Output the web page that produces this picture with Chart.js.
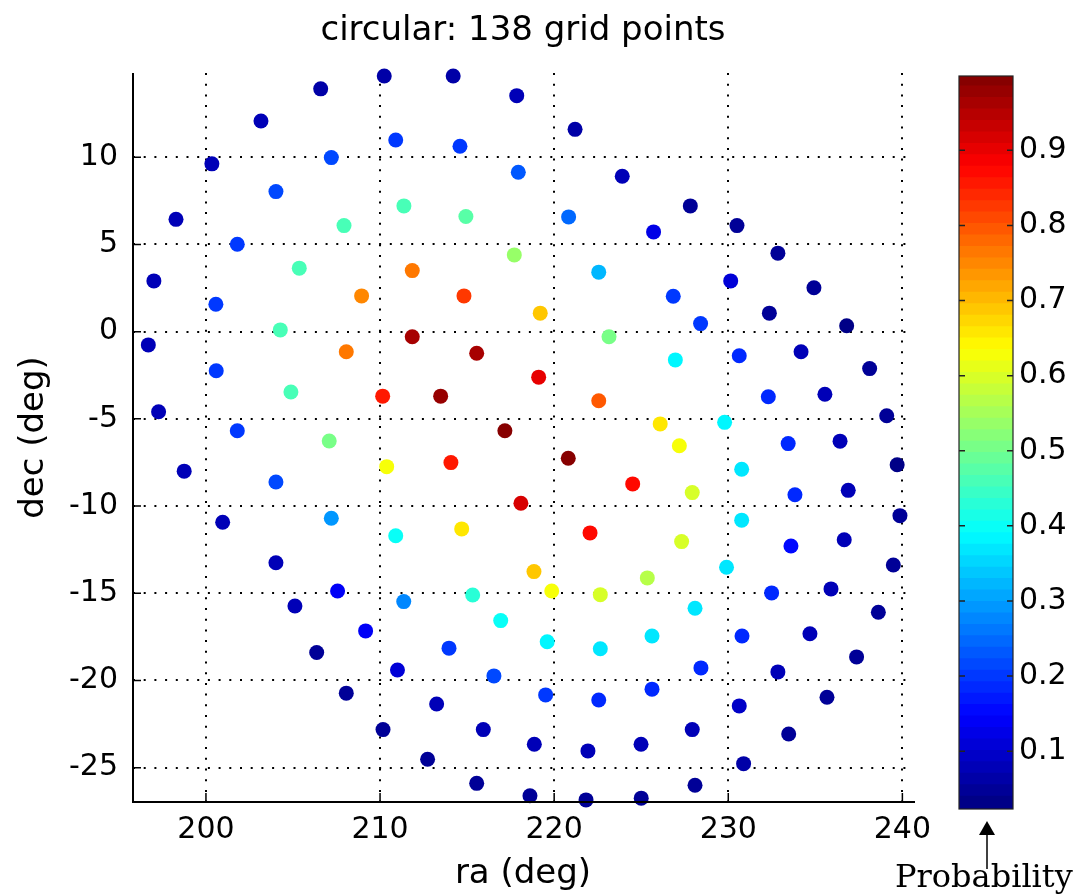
<!DOCTYPE html>
<html>
<head>
<meta charset="utf-8">
<script src="https://cdn.jsdelivr.net/npm/chart.js@4.4.1/dist/chart.umd.min.js"></script>
<style>
  html, body { margin: 0; padding: 0; background: #fff; }
  #wrap { position: relative; width: 1077px; height: 895px; }
  #wrap canvas { position: absolute; left: 0; top: 0; }
</style>
</head>
<body>
<div id="wrap">
  <canvas id="scatter" width="1077" height="895"></canvas>
  <canvas id="cbar" width="1077" height="895"></canvas>
</div>
<script>
// grid point positions (deg) and probability
const ra = [
  210.24, 214.2, 206.59, 217.85, 203.16, 210.9, 214.59, 207.2, 200.34, 217.94,
  204.02, 211.37, 214.93, 198.28, 207.93, 201.8, 217.71, 205.36, 211.85, 197.01,
  208.94, 214.82, 200.57, 204.27, 211.85, 196.69, 208.06, 215.55, 200.59, 204.88,
  210.15, 213.48, 197.28, 217.17, 201.8, 207.08, 198.75, 210.38, 214.07, 204.02,
  218.09, 200.96, 207.2, 210.9, 214.69, 204.02, 207.56, 205.11, 211.36, 215.32,
  216.93, 209.17, 213.96, 206.36, 211.0, 216.54, 208.06, 213.25, 210.17, 215.93,
  212.73, 215.55, 221.2, 223.91, 227.82, 220.83, 225.71, 230.5, 222.56, 232.85,
  230.14, 234.92, 226.84, 219.2, 232.36, 236.8, 228.41, 223.15, 230.63, 234.18,
  226.96, 219.11, 238.12, 222.56, 232.3, 235.55, 239.1, 226.09, 229.79, 220.81,
  227.19, 233.44, 236.42, 239.7, 230.77, 224.51, 227.93, 233.83, 236.89, 239.86,
  230.77, 222.06, 227.32, 233.6, 236.66, 218.84, 229.9, 239.48, 225.35, 219.86,
  222.65, 232.49, 235.9, 228.09, 238.62, 219.6, 222.65, 225.62, 230.79, 234.69,
  228.43, 232.85, 237.37, 219.51, 222.56, 225.62, 230.63, 235.67, 227.93, 233.47,
  218.86, 221.94, 224.99, 230.88, 228.09, 218.61, 221.83, 225.0
];
const dec = [
  14.66, 14.66, 13.92, 13.53, 12.08, 10.99, 10.63, 9.98, 9.62, 9.14,
  8.03, 7.21, 6.6, 6.44, 6.08, 5.01, 4.4, 3.64, 3.5, 2.91,
  2.05, 2.05, 1.57, 0.1, -0.29, -0.76, -1.15, -1.24, -2.24, -3.46,
  -3.7, -3.7, -4.59, -5.68, -5.68, -6.27, -8.0, -7.74, -7.51, -8.62,
  -9.84, -10.93, -10.7, -11.7, -11.31, -13.25, -14.87, -15.73, -15.48, -15.1,
  -16.57, -17.16, -18.15, -18.4, -19.4, -19.74, -20.73, -21.35, -22.82, -22.82,
  -24.52, -25.9, 11.6, 8.91, 7.21, 6.58, 5.72, 6.08, 3.41, 4.5,
  2.91, 2.52, 2.03, 1.06, 1.06, 0.34, 0.46, -0.29, -1.38, -1.15,
  -1.62, -2.61, -2.12, -3.96, -3.73, -3.59, -4.82, -5.29, -5.2, -7.26,
  -6.54, -6.42, -6.28, -7.63, -7.89, -8.73, -9.23, -9.35, -9.1, -10.55,
  -10.81, -11.54, -12.04, -12.29, -11.93, -13.76, -13.51, -13.38, -14.12, -14.87,
  -15.08, -14.98, -14.75, -15.86, -16.09, -17.78, -18.18, -17.45, -17.45, -17.32,
  -19.28, -19.51, -18.65, -20.83, -21.12, -20.5, -21.46, -20.96, -22.82, -23.07,
  -23.66, -24.04, -23.66, -24.77, -26.01, -26.61, -26.85, -26.75
];
const prob = [
  0.06, 0.06, 0.06, 0.07, 0.07, 0.2, 0.2, 0.22, 0.07, 0.23,
  0.21, 0.45, 0.48, 0.07, 0.46, 0.2, 0.53, 0.45, 0.77, 0.07,
  0.75, 0.83, 0.2, 0.45, 0.96, 0.07, 0.77, 0.96, 0.2, 0.45,
  0.85, 0.97, 0.07, 0.99, 0.2, 0.5, 0.07, 0.63, 0.86, 0.21,
  0.92, 0.07, 0.29, 0.4, 0.65, 0.07, 0.14, 0.07, 0.27, 0.42,
  0.39, 0.13, 0.2, 0.04, 0.1, 0.22, 0.04, 0.07, 0.04, 0.08,
  0.04, 0.04, 0.06, 0.07, 0.05, 0.24, 0.12, 0.04, 0.32, 0.04,
  0.1, 0.04, 0.2, 0.69, 0.05, 0.03, 0.2, 0.51, 0.18, 0.07,
  0.38, 0.9, 0.04, 0.8, 0.18, 0.07, 0.04, 0.65, 0.38, 0.99,
  0.62, 0.18, 0.07, 0.03, 0.37, 0.87, 0.6, 0.18, 0.08, 0.04,
  0.37, 0.87, 0.59, 0.16, 0.07, 0.69, 0.37, 0.04, 0.57, 0.62,
  0.59, 0.18, 0.07, 0.37, 0.04, 0.38, 0.37, 0.37, 0.18, 0.08,
  0.19, 0.07, 0.04, 0.2, 0.19, 0.18, 0.09, 0.05, 0.08, 0.05,
  0.08, 0.07, 0.07, 0.06, 0.04, 0.04, 0.04, 0.04
];
const xTicks = [200, 210, 220, 230, 240];
const yTicks = [-25, -20, -15, -10, -5, 0, 5, 10];
const cbTicks = [0.1, 0.2, 0.3, 0.4, 0.5, 0.6, 0.7, 0.8, 0.9];
const cbMin = 0.023, cbMax = 0.999;
const cbLevels = 64;

// matlab style jet colormap, 64 steps
function jet(v) {
  let i = Math.floor((v - cbMin) / (cbMax - cbMin) * cbLevels);
  i = Math.min(cbLevels - 1, Math.max(0, i));
  const t = (i + 0.5) / cbLevels;
  const c = k => Math.round(255 * Math.min(1, Math.max(0, 1.5 - Math.abs(4 * t - k))));
  return `rgb(${c(3)},${c(2)},${c(1)})`;
}

Chart.defaults.font.family = "'DejaVu Sans', sans-serif";
Chart.defaults.color = '#000';

const points = ra.map((x, i) => ({ x: x, y: dec[i] }));

// solid left/bottom axis with inward ticks
const axesPlugin = {
  id: 'matlabAxes',
  afterDatasetsDraw(chart) {
    const { ctx, chartArea: a, scales: { x, y } } = chart;
    ctx.save();
    ctx.strokeStyle = '#000';
    ctx.lineWidth = 2;
    ctx.beginPath();
    ctx.moveTo(a.left, a.top);
    ctx.lineTo(a.left, a.bottom);
    ctx.lineTo(a.right + 2, a.bottom);
    ctx.stroke();
    ctx.lineWidth = 1.5;
    ctx.beginPath();
    xTicks.forEach(v => {
      const px = x.getPixelForValue(v);
      ctx.moveTo(px, a.bottom);
      ctx.lineTo(px, a.bottom - 9);
    });
    yTicks.forEach(v => {
      const py = y.getPixelForValue(v);
      ctx.moveTo(a.left, py);
      ctx.lineTo(a.left + 8, py);
    });
    ctx.stroke();
    ctx.restore();
  }
};

new Chart(document.getElementById('scatter'), {
  type: 'scatter',
  data: {
    datasets: [{
      data: points,
      backgroundColor: prob.map(jet),
      pointRadius: 7.5,
      pointBorderWidth: 0,
      clip: false
    }]
  },
  options: {
    responsive: false,
    animation: false,
    devicePixelRatio: 1,
    layout: { padding: { left: 0, top: 0, right: 164, bottom: 0 } },
    plugins: {
      legend: { display: false },
      tooltip: { enabled: false },
      title: {
        display: true,
        fullSize: false,
        text: 'circular: 138 grid points',
        font: { size: 34, weight: 'normal' },
        color: '#000',
        padding: { top: 11, bottom: 21.2 }
      }
    },
    scales: {
      x: {
        type: 'linear',
        min: 195.81,
        max: 240.61,
        afterBuildTicks: s => { s.ticks = xTicks.map(v => ({ value: v })); },
        afterFit: s => { s.height = 93; },
        grid: { color: '#000', lineWidth: 2, drawTicks: false },
        border: { display: false, dash: [2, 8.7] },
        ticks: { font: { size: 30 }, padding: 10, maxRotation: 0, color: '#000' },
        title: { display: true, text: 'ra (deg)', font: { size: 34 }, padding: 0, color: '#000' }
      },
      y: {
        type: 'linear',
        min: -26.97,
        max: 14.83,
        afterBuildTicks: s => { s.ticks = yTicks.map(v => ({ value: v })); },
        afterFit: s => { s.width = 133; },
        grid: { color: '#000', lineWidth: 2, drawTicks: false },
        border: { display: false, dash: [2, 8.7] },
        ticks: { font: { size: 30 }, padding: 15, color: '#000' },
        title: { display: true, text: 'dec (deg)', font: { size: 34 }, padding: { top: 14, bottom: 0 }, color: '#000' }
      }
    }
  },
  plugins: [axesPlugin]
});

// colour bar: 64 floating bars on one category
const cbData = [];
for (let i = 0; i < cbLevels; i++) {
  const lo = cbMin + (cbMax - cbMin) * i / cbLevels;
  const hi = cbMin + (cbMax - cbMin) * (i + 1) / cbLevels;
  cbData.push({
    data: [[lo, i < cbLevels - 1 ? hi + 0.002 : hi]],
    backgroundColor: jet((lo + hi) / 2),
    borderWidth: 0,
    grouped: false,
    barPercentage: 1,
    categoryPercentage: 1
  });
}

const cbPlugin = {
  id: 'cbFrame',
  afterDraw(chart) {
    const { ctx, chartArea: a, scales: { y } } = chart;
    ctx.save();
    ctx.strokeStyle = '#222';
    ctx.lineWidth = 1.2;
    ctx.strokeRect(a.left, a.top, a.right - a.left, a.bottom - a.top);
    ctx.lineWidth = 1.5;
    ctx.beginPath();
    cbTicks.forEach(v => {
      const py = y.getPixelForValue(v);
      ctx.moveTo(a.left, py); ctx.lineTo(a.left + 6, py);
      ctx.moveTo(a.right, py); ctx.lineTo(a.right - 6, py);
    });
    ctx.stroke();
    // arrow and label under the bar
    const ax = (a.left + a.right) / 2 + 1;
    ctx.strokeStyle = '#000';
    ctx.fillStyle = '#000';
    ctx.lineWidth = 1.5;
    ctx.beginPath();
    ctx.moveTo(ax, 834); ctx.lineTo(ax, 869);
    ctx.stroke();
    ctx.beginPath();
    ctx.moveTo(ax, 821); ctx.lineTo(ax - 8, 835); ctx.lineTo(ax + 8, 835);
    ctx.closePath();
    ctx.fill();
    ctx.font = "32px 'DejaVu Serif', serif";
    ctx.textAlign = 'left';
    ctx.textBaseline = 'alphabetic';
    ctx.fillText('Probability', 895, 887);
    ctx.restore();
  }
};

new Chart(document.getElementById('cbar'), {
  type: 'bar',
  data: { labels: ['p'], datasets: cbData },
  options: {
    responsive: false,
    animation: false,
    devicePixelRatio: 1,
    layout: { padding: { left: 959, right: 4, top: 76, bottom: 86 } },
    plugins: { legend: { display: false }, tooltip: { enabled: false }, title: { display: false } },
    scales: {
      x: { display: false },
      y: {
        position: 'right',
        min: cbMin,
        max: cbMax,
        afterBuildTicks: s => { s.ticks = cbTicks.map(v => ({ value: v })); },
        afterFit: s => { s.width = 60; },
        grid: { display: false, drawTicks: false },
        border: { display: false },
        ticks: { font: { size: 30 }, padding: 6, color: '#000', callback: v => v.toFixed(1) }
      }
    }
  },
  plugins: [cbPlugin]
});
</script>
</body>
</html>
